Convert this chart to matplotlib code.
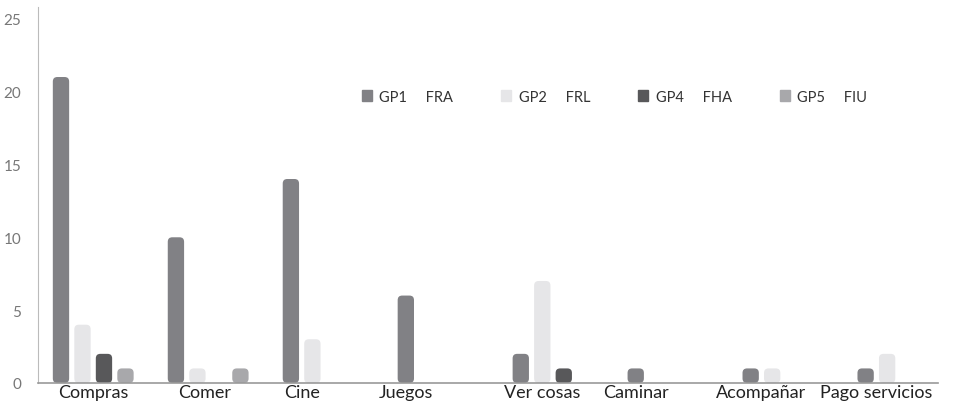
import matplotlib.pyplot as plt
from matplotlib.patches import FancyBboxPatch, Patch
import numpy as np

categories = ['Compras', 'Comer', 'Cine', 'Juegos', 'Ver cosas', 'Caminar', 'Acompañar', 'Pago servicios']
series = ['GP1     FRA', 'GP2     FRL', 'GP4     FHA', 'GP5     FIU']
gp1 = [21, 10, 14, 6, 2, 1, 1, 1]
gp2 = [4, 1, 3, 0, 7, 0, 1, 2]
gp4 = [2, 0, 0, 0, 1, 0, 0, 0]
gp5 = [1, 1, 0, 0, 0, 0, 0, 0]
colors = ['#818185', '#e6e6e8', '#58585a', '#a8a8ab']

plt.rcParams['font.family'] = ['Lato', 'DejaVu Sans']

fig = plt.figure(figsize=(9.57, 4.14), dpi=100)
ax = fig.add_axes([0.0397, 0.0725, 0.9405, 0.908])

values = [gp1, gp2, gp4, gp5]
step = 0.187
width = 0.142
x = np.arange(len(categories))
ax.set_xlim(-0.2, 7.63)
ax.set_ylim(0, 25.8)

# pixels per data unit, to keep the corner rounding circular
px_x = 115.0
px_y = 14.56
radius = 4.5 / px_x

for j, vals in enumerate(values):
    for i, v in enumerate(vals):
        if v == 0:
            continue
        left = x[i] + j * step - width / 2
        p = FancyBboxPatch((left, 0), width, v,
                           boxstyle='round,pad=0,rounding_size=%f' % radius,
                           mutation_aspect=px_x / px_y,
                           facecolor=colors[j], edgecolor='none', zorder=2)
        ax.add_patch(p)

# label sits under the middle of the bars that are drawn
tick_pos = []
for i in range(len(categories)):
    offs = [j * step for j in range(4) if values[j][i] > 0]
    tick_pos.append(x[i] + np.mean(offs))
ax.set_xticks(tick_pos)
ax.set_xticklabels(categories, fontsize=13, color='#222222')
ax.set_yticks([0, 5, 10, 15, 20, 25])
ax.tick_params(axis='y', length=0, labelsize=11, labelcolor='#777777', pad=12)
ax.tick_params(axis='x', length=0, pad=1)

for s in ['top', 'right']:
    ax.spines[s].set_visible(False)
ax.spines['left'].set_color('#bbbbbb')
ax.spines['bottom'].set_color('#999999')
ax.spines['bottom'].set_linewidth(1.2)

handles = [Patch(color=c, label=s) for c, s in zip(colors, series)]
leg = ax.legend(handles=handles, loc='center left', bbox_to_anchor=(0.345, 0.762), ncol=4,
                frameon=False, fontsize=10.5, handlelength=0.7, handleheight=0.7,
                handletextpad=0.5, columnspacing=3.3)
for t in leg.get_texts():
    t.set_color('#333333')

fig.savefig('out.png', dpi=100)
